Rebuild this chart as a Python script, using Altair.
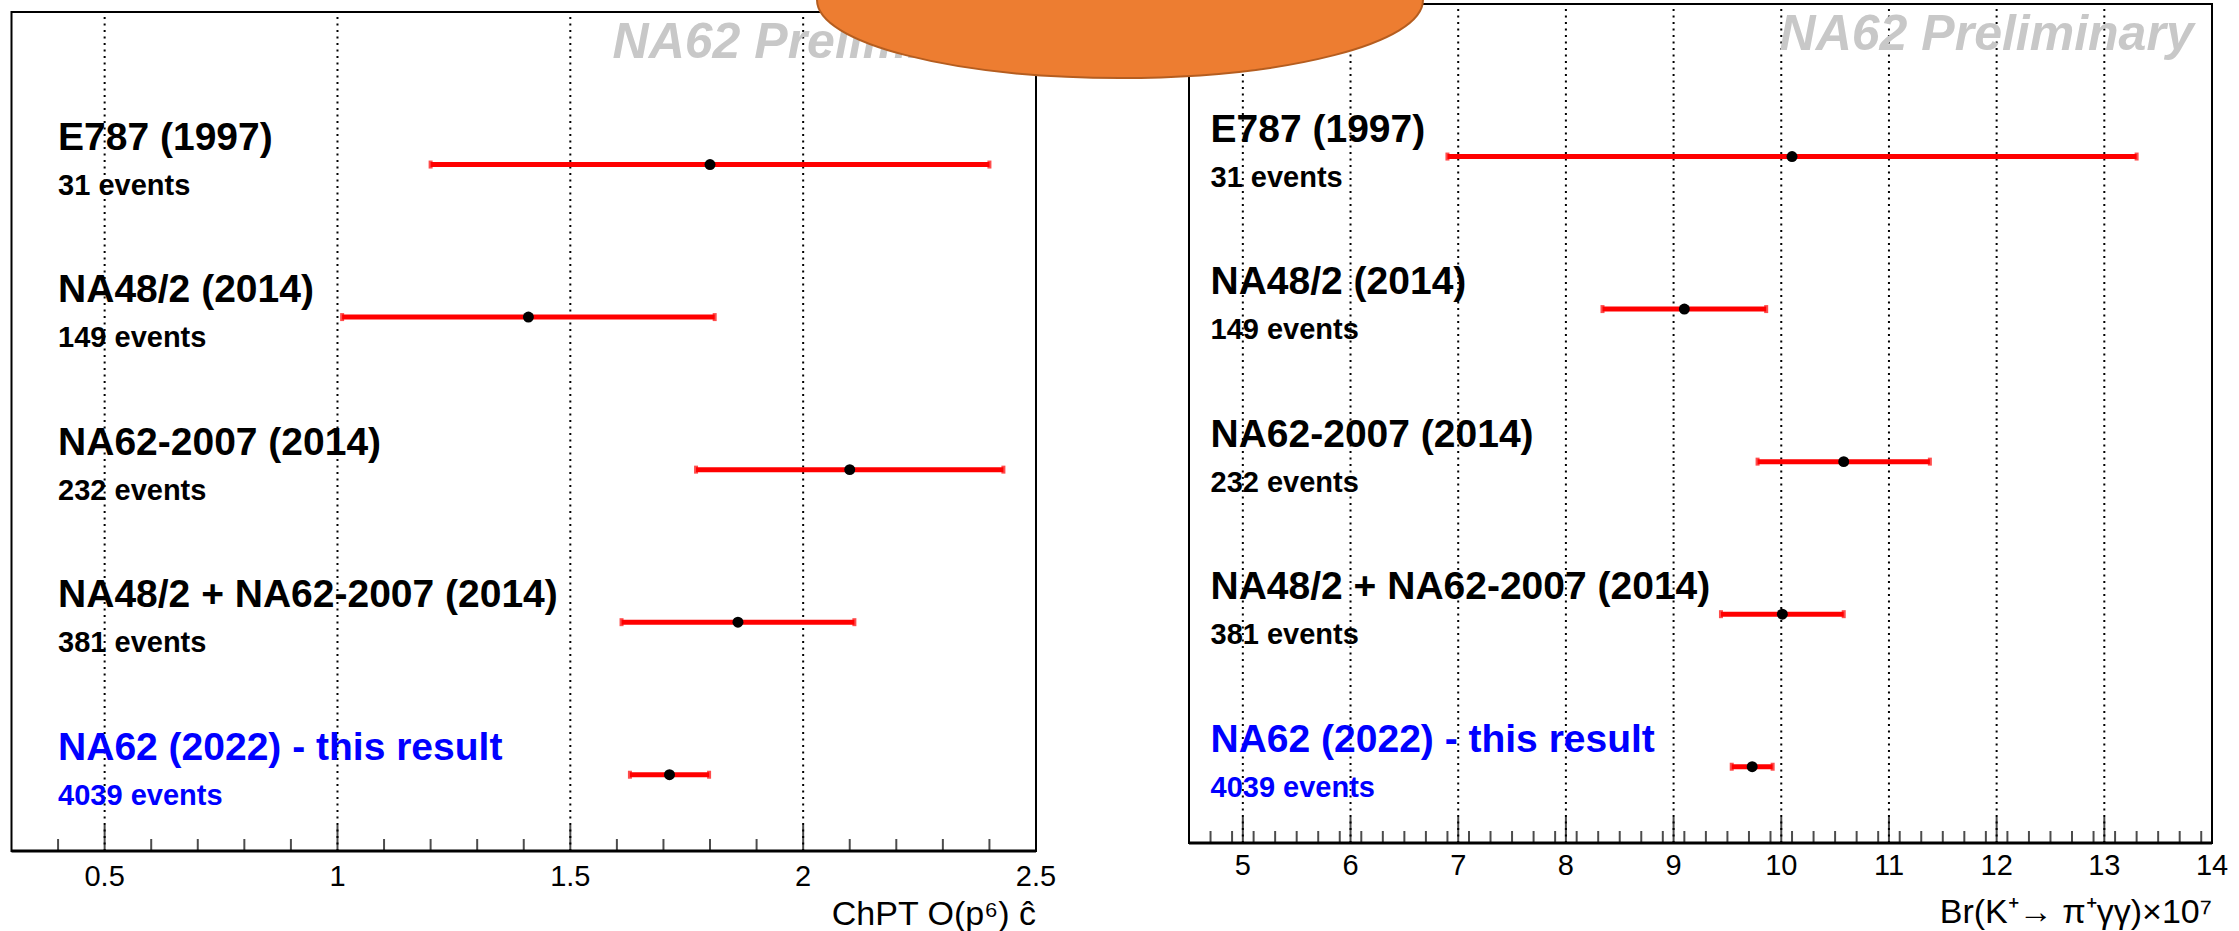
import altair as alt
import pandas as pd

# Measurements shown in both panels (top row first)
experiments = [
    "E787 (1997)",
    "NA48/2 (2014)",
    "NA62-2007 (2014)",
    "NA48/2 + NA62-2007 (2014)",
    "NA62 (2022) - this result",
]
event_counts = ["31 events", "149 events", "232 events", "381 events", "4039 events"]
row_index = [5, 4, 3, 2, 1]
text_colors = ["black", "black", "black", "black", "blue"]

# ChPT O(p^6) parameter c-hat, central value and total uncertainty
chat_value = [1.80, 1.41, 2.10, 1.86, 1.713]
chat_error = [0.60, 0.40, 0.33, 0.25, 0.085]

# Br(K+ -> pi+ gamma gamma) x 1e7, central value and total uncertainty
br_value = [10.10, 9.10, 10.58, 10.01, 9.73]
br_error = [3.20, 0.76, 0.80, 0.57, 0.19]

# Axis ticks and their labels
chat_major = [0.5, 1.0, 1.5, 2.0, 2.5]
chat_labels = ["0.5", "1", "1.5", "2", "2.5"]
br_major = [5, 6, 7, 8, 9, 10, 11, 12, 13, 14]
br_labels = ["5", "6", "7", "8", "9", "10", "11", "12", "13", "14"]

CHAT_DOMAIN = [0.3, 2.5]
BR_DOMAIN = [4.5, 14.0]
ROW_DOMAIN = [0.5, 6.0]

FONT = "Liberation Sans"
W, H = 2239, 931


def minor_ticks(lo, hi, step, major):
    n = int(round((hi - lo) / step))
    vals = [round(lo + step * i, 3) for i in range(1, n)]
    return [v for v in vals if all(abs(v - m) > 1e-6 for m in major)]


def panel(values, errors, x_dom, x_rng, y_rng, major, major_labels, minor,
          label_x, mark_x, title, label_dy, title_dy):
    xs = alt.Scale(domain=x_dom, range=x_rng, nice=False, zero=False)
    ys = alt.Scale(domain=ROW_DOMAIN, range=y_rng, nice=False, zero=False)

    def xf(field):
        return alt.X(field, scale=xs, axis=None)

    def yf(field):
        return alt.Y(field, scale=ys, axis=None)

    def x_datum(v):
        return alt.X(datum=v, scale=xs, axis=None)

    def y_datum(v):
        return alt.Y(datum=v, scale=ys, axis=None)

    df = pd.DataFrame({
        "experiment": experiments,
        "events": event_counts,
        "row": row_index,
        "color": text_colors,
        "value": values,
        "err": errors,
    })
    df["lo"] = df["value"] - df["err"]
    df["hi"] = df["value"] + df["err"]

    one = pd.DataFrame({"k": [0]})

    frame = alt.Chart(one).mark_rect(
        fillOpacity=0, stroke="black", strokeWidth=2
    ).encode(
        x=x_datum(x_dom[0]), x2=alt.X2(datum=x_dom[1]),
        y=y_datum(ROW_DOMAIN[0]), y2=alt.Y2(datum=ROW_DOMAIN[1]),
    )
    axis_line = alt.Chart(one).mark_rule(color="black", strokeWidth=3).encode(
        x=x_datum(x_dom[0]), x2=alt.X2(datum=x_dom[1]),
        y=y_datum(ROW_DOMAIN[0]),
    )

    major_df = pd.DataFrame({"tick": major, "label": major_labels})
    minor_df = pd.DataFrame({"tick": minor})

    grid = alt.Chart(major_df).mark_rule(
        color="black", strokeWidth=2, strokeDash=[2, 4.5]
    ).encode(
        x=xf("tick:Q"), y=y_datum(ROW_DOMAIN[0]), y2=alt.Y2(datum=ROW_DOMAIN[1]),
    )
    major_t = alt.Chart(major_df).mark_tick(
        orient="vertical", size=26, thickness=2, color="black", yOffset=-13
    ).encode(x=xf("tick:Q"), y=y_datum(ROW_DOMAIN[0]))
    minor_t = alt.Chart(minor_df).mark_tick(
        orient="vertical", size=12, thickness=2, color="black", yOffset=-6
    ).encode(x=xf("tick:Q"), y=y_datum(ROW_DOMAIN[0]))
    tick_text = alt.Chart(major_df).mark_text(
        align="center", baseline="alphabetic", font=FONT, fontSize=29,
        color="black", dy=label_dy,
    ).encode(x=xf("tick:Q"), y=y_datum(ROW_DOMAIN[0]), text="label:N")
    axis_title = alt.Chart(pd.DataFrame({"t": [title]})).mark_text(
        align="right", baseline="alphabetic", font=FONT, fontSize=34,
        color="black", dy=title_dy,
    ).encode(x=x_datum(x_dom[1]), y=y_datum(ROW_DOMAIN[0]), text="t:N")

    wm = alt.Chart(pd.DataFrame({"t": ["NA62 Preliminary"]})).mark_text(
        align="right", baseline="alphabetic", font=FONT, fontStyle="italic",
        fontWeight="bold", fontSize=50, color="#c8c8c8",
    ).encode(x=x_datum(mark_x), y=y_datum(5.7), text="t:N")

    bars = alt.Chart(df).mark_rule(color="#ff0000", strokeWidth=5).encode(
        x=xf("lo:Q"), x2="hi:Q", y=yf("row:Q"),
    )
    cap_lo = alt.Chart(df).mark_tick(
        orient="vertical", size=8, thickness=4, color="#ff0000"
    ).encode(x=xf("lo:Q"), y=yf("row:Q"))
    cap_hi = alt.Chart(df).mark_tick(
        orient="vertical", size=8, thickness=4, color="#ff0000"
    ).encode(x=xf("hi:Q"), y=yf("row:Q"))
    points = alt.Chart(df).mark_circle(size=120, color="black", opacity=1).encode(
        x=xf("value:Q"), y=yf("row:Q"),
    )

    names = alt.Chart(df).mark_text(
        align="left", baseline="alphabetic", font=FONT, fontWeight="bold",
        fontSize=39, dy=-15,
    ).encode(
        x=x_datum(label_x), y=yf("row:Q"),
        text="experiment:N", color=alt.Color("color:N", scale=None),
    )
    counts = alt.Chart(df).mark_text(
        align="left", baseline="alphabetic", font=FONT, fontWeight="bold",
        fontSize=29, dy=30,
    ).encode(
        x=x_datum(label_x), y=yf("row:Q"),
        text="events:N", color=alt.Color("color:N", scale=None),
    )

    return alt.layer(frame, grid, major_t, minor_t, axis_line, tick_text,
                     axis_title, wm, bars, cap_lo, cap_hi, points, names, counts)


left = panel(
    chat_value, chat_error, CHAT_DOMAIN, [11.5, 1036], [851, 12],
    chat_major, chat_labels, minor_ticks(0.3, 2.5, 0.1, chat_major),
    0.4, 2.48, "ChPT O(p\u2076) \u0109", 35, 74,
)
right = panel(
    br_value, br_error, BR_DOMAIN, [1189, 2212], [843, 4],
    br_major, br_labels, minor_ticks(4.5, 14.0, 0.2, br_major),
    4.7, 13.83, "Br(K\u207a\u2192 \u03c0\u207a\u03b3\u03b3)\u00d710\u2077", 32, 80,
)

# Orange callout bubble across the top of the slide
ellipse_path = "M -1 0 A 1 0.2574 0 1 0 1 0 A 1 0.2574 0 1 0 -1 0 Z"
callout = alt.Chart(pd.DataFrame({"k": [0]})).mark_point(
    shape=ellipse_path, size=606 ** 2, filled=True, fill="#ED7D31",
    fillOpacity=1, opacity=1, stroke="#B55D1F", strokeWidth=2,
).encode(x=alt.value(1120), y=alt.value(0))

chart = alt.layer(left, right, callout).resolve_scale(
    x="independent", y="independent"
).properties(
    width=W, height=H, padding=0, background="white",
    autosize=alt.AutoSizeParams(type="none"),
).configure_view(stroke=None)

chart.save("out.html", embed_options={"renderer": "svg", "actions": False})
